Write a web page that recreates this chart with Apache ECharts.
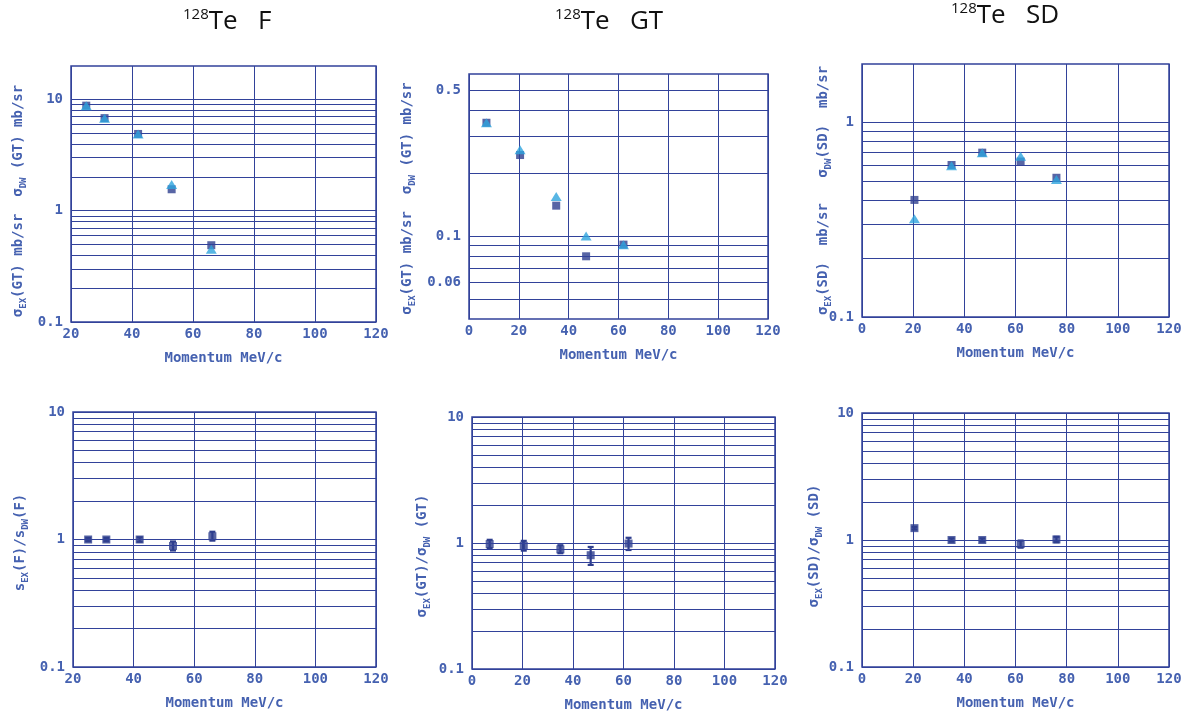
<!DOCTYPE html>
<html><head><meta charset="utf-8">
<script src="https://cdn.jsdelivr.net/npm/echarts@6/dist/echarts.min.js"></script>
<style>html,body{margin:0;padding:0;background:#fff}#c{width:1186px;height:717px}</style>
</head><body><div id="c"></div>
<script>
// ---------------- data ----------------
const xF = [25, 31, 42, 53, 66];
const exF = [8.8, 6.8, 4.9, 1.56, 0.49];
const dwF = [8.8, 6.8, 4.9, 1.72, 0.45];

const xGT = [7, 20.5, 35, 47, 62];
const exGT = [0.35, 0.245, 0.14, 0.08, 0.091];
const dwGT = [0.35, 0.26, 0.155, 0.1, 0.091];

const xSD = [20.5, 35, 47, 62, 76];
const exSD = [0.40, 0.605, 0.70, 0.63, 0.52];
const dwSD = [0.32, 0.60, 0.70, 0.67, 0.51];

const ratioF   = [1.0, 1.0, 1.0, 0.89, 1.06];
const ratioFLo = [0.97, 0.97, 0.96, 0.82, 0.98];
const ratioFHi = [1.03, 1.03, 1.04, 0.965, 1.15];

const ratioGT   = [0.98, 0.95, 0.89, 0.80, 0.99];
const ratioGTLo = [0.91, 0.87, 0.83, 0.67, 0.88];
const ratioGTHi = [1.06, 1.04, 0.96, 0.93, 1.10];

const ratioSD   = [1.24, 1.0, 1.0, 0.93, 1.01];
const ratioSDLo = [1.21, 0.97, 0.97, 0.87, 0.96];
const ratioSDHi = [1.27, 1.03, 1.03, 0.99, 1.06];

// tick labels / gridline values
const yLabelsF = [0.1, 1, 10];
const yLabelsGT = [0.06, 0.1, 0.5];
const yLabelsSD = [0.1, 1];
const yLabelsRatio = [0.1, 1, 10];
const gridF = [0.1,0.2,0.3,0.4,0.5,0.6,0.7,0.8,0.9,1,2,3,4,5,6,7,8,9,10];
const gridGT = [0.05,0.06,0.07,0.08,0.09,0.1,0.2,0.3,0.4,0.5];
const gridSD = [0.1,0.2,0.3,0.4,0.5,0.6,0.7,0.8,0.9,1];
const gridRatio = [0.1,0.2,0.3,0.4,0.5,0.6,0.7,0.8,0.9,1,2,3,4,5,6,7,8,9,10];

const xName = 'Momentum MeV/c';
const titles = ['{s|128}{t|Te   F}', '{s|128}{t|Te   GT}', '{s|128}{t|Te   SD}'];

// ---------------- style ----------------
const GRID = '#32429a';
const TXT = '#4561b0';
const SQ = '#2e3e8e';
const TRI = '#2ea4dd';
const MONO = 'DejaVu Sans Mono';
const SANS = 'Open Sans';

const richName = {
  m: {fontFamily: MONO, fontWeight: 'bold', fontSize: 14, color: TXT, lineHeight: 20, verticalAlign: 'middle'},
  s: {fontFamily: MONO, fontWeight: 'bold', fontSize: 9, color: TXT, lineHeight: 10, verticalAlign: 'bottom'}
};

const panels = [
  {box: [71, 66, 305, 256], xmin: 20, ymin: 0.1, ymax: 20, grid: gridF, labels: yLabelsF,
   name: '{m|σ}{s|EX}{m|(GT) mb/sr  σ}{s|DW}{m| (GT) mb/sr}', gap: 43, shift: 7,
   series: [{x: xF, y: exF, t: 'sq'}, {x: xF, y: dwF, t: 'tri'}]},
  {box: [469, 74, 299, 245], xmin: 0, ymin: 0.04, ymax: 0.6, grid: gridGT, labels: yLabelsGT,
   name: '{m|σ}{s|EX}{m|(GT) mb/sr  σ}{s|DW}{m| (GT) mb/sr}', gap: 52, shift: 2,
   series: [{x: xGT, y: exGT, t: 'sq'}, {x: xGT, y: dwGT, t: 'tri'}]},
  {box: [862, 64, 307, 253], xmin: 0, ymin: 0.1, ymax: 2, grid: gridSD, labels: yLabelsSD,
   name: '{m|σ}{s|EX}{m|(SD)  mb/sr   σ}{s|DW}{m|(SD)  mb/sr}', gap: 29, shift: 0,
   series: [{x: xSD, y: exSD, t: 'sq'}, {x: xSD, y: dwSD, t: 'tri'}]},
  {box: [73, 412, 303, 255], xmin: 20, ymin: 0.1, ymax: 10, grid: gridRatio, labels: yLabelsRatio,
   name: '{m|s}{s|EX}{m|(F)/s}{s|DW}{m|(F)}', gap: 43, shift: 3,
   series: [{x: xF, y: ratioF, lo: ratioFLo, hi: ratioFHi, t: 'err'}]},
  {box: [472, 417, 303, 252], xmin: 0, ymin: 0.1, ymax: 10, grid: gridRatio, labels: yLabelsRatio,
   name: '{m|σ}{s|EX}{m|(GT)/σ}{s|DW}{m| (GT)}', gap: 40, shift: 13,
   series: [{x: xGT, y: ratioGT, lo: ratioGTLo, hi: ratioGTHi, t: 'err'}]},
  {box: [862, 413, 307, 254], xmin: 0, ymin: 0.1, ymax: 10, grid: gridRatio, labels: yLabelsRatio,
   name: '{m|σ}{s|EX}{m|(SD)/σ}{s|DW}{m| (SD)}', gap: 38, shift: 6,
   series: [{x: xSD, y: ratioSD, lo: ratioSDLo, hi: ratioSDHi, t: 'err'}]}
];

const zip = (xs, ys) => xs.map((x, i) => [x, ys[i]]);

function renderErr(params, api) {
  const x = api.value(0);
  const a = api.coord([x, api.value(1)]);
  const b = api.coord([x, api.value(2)]);
  const w = 3;
  const st = {stroke: SQ, lineWidth: 2.2};
  return {type: 'group', children: [
    {type: 'line', shape: {x1: a[0], y1: a[1], x2: b[0], y2: b[1]}, style: st},
    {type: 'line', shape: {x1: a[0] - w, y1: a[1], x2: a[0] + w, y2: a[1]}, style: st},
    {type: 'line', shape: {x1: b[0] - w, y1: b[1], x2: b[0] + w, y2: b[1]}, style: st}
  ]};
}

const titleRich = {
  s: {fontFamily: SANS, fontWeight: 'normal', fontSize: 15, color: '#111', lineHeight: 16, verticalAlign: 'top'},
  t: {fontFamily: SANS, fontWeight: 'normal', fontSize: 26, color: '#111', lineHeight: 30, verticalAlign: 'middle'}
};

const option = {
  animation: false,
  backgroundColor: '#fff',
  title: [
    {text: titles[0], left: 183, top: 7},
    {text: titles[1], left: 555, top: 7},
    {text: titles[2], left: 951, top: 1}
  ].map(t => Object.assign(t, {padding: 0,
    textStyle: {fontFamily: SANS, fontWeight: 'normal', fontSize: 26, color: '#111', rich: titleRich}})),
  grid: [], xAxis: [], yAxis: [], series: []
};

panels.forEach((p, i) => {
  option.grid.push({left: p.box[0], top: p.box[1], width: p.box[2], height: p.box[3],
    show: true, borderColor: GRID, borderWidth: 1.5, backgroundColor: 'transparent'});
  option.xAxis.push({type: 'value', gridIndex: i, min: p.xmin, max: 120, interval: 20,
    axisLine: {show: false}, axisTick: {show: false},
    splitLine: {show: true, lineStyle: {color: GRID, width: 1}},
    axisLabel: {fontFamily: MONO, fontWeight: 'bold', fontSize: 14, color: TXT, margin: 5},
    name: xName, nameLocation: 'middle', nameGap: 29,
    nameTextStyle: {fontFamily: MONO, fontWeight: 'bold', fontSize: 14, color: TXT}});
  option.yAxis.push({type: 'log', logBase: 10, gridIndex: i, min: p.ymin, max: p.ymax,
    axisLine: {show: false}, axisTick: {show: false}, axisLabel: {show: false},
    splitLine: {show: false},
    name: p.name, nameLocation: 'middle', nameRotate: 90, nameGap: p.gap,
    nameTextStyle: {rich: richName, padding: [0, 2 * p.shift, 0, 0]}});
  // gridlines + y tick labels, placed by the log axis
  option.series.push({type: 'scatter', xAxisIndex: i, yAxisIndex: i, data: [], z: 1, silent: true,
    markLine: {silent: true, symbol: ['none', 'none'], animation: false,
      lineStyle: {color: GRID, width: 1, type: 'solid'},
      label: {show: false},
      data: p.grid.map(v => {
        const isLab = p.labels.indexOf(v) >= 0;
        return {yAxis: v, label: isLab ? {show: true, position: 'start', distance: 8, formatter: String(v),
          fontFamily: MONO, fontWeight: 'bold', fontSize: 14, color: TXT} : {show: false}};
      })}});
  p.series.forEach(s => {
    if (s.t === 'sq') {
      option.series.push({type: 'scatter', xAxisIndex: i, yAxisIndex: i, z: 4, symbol: 'rect', symbolSize: 8,
        itemStyle: {color: SQ}, data: zip(s.x, s.y)});
    } else if (s.t === 'tri') {
      option.series.push({type: 'scatter', xAxisIndex: i, yAxisIndex: i, z: 5, symbol: 'triangle', symbolSize: [11, 9],
        itemStyle: {color: TRI}, data: zip(s.x, s.y)});
    } else {
      option.series.push({type: 'custom', xAxisIndex: i, yAxisIndex: i, z: 3, renderItem: renderErr,
        encode: {x: 0, y: [1, 2]}, data: s.x.map((x, k) => [x, s.lo[k], s.hi[k]])});
      option.series.push({type: 'scatter', xAxisIndex: i, yAxisIndex: i, z: 4, symbol: 'rect', symbolSize: 8,
        itemStyle: {color: SQ}, data: zip(s.x, s.y)});
    }
  });
});

const chart = echarts.init(document.getElementById('c'), null, {renderer: 'canvas'});
chart.setOption(option);
</script>
</body></html>
